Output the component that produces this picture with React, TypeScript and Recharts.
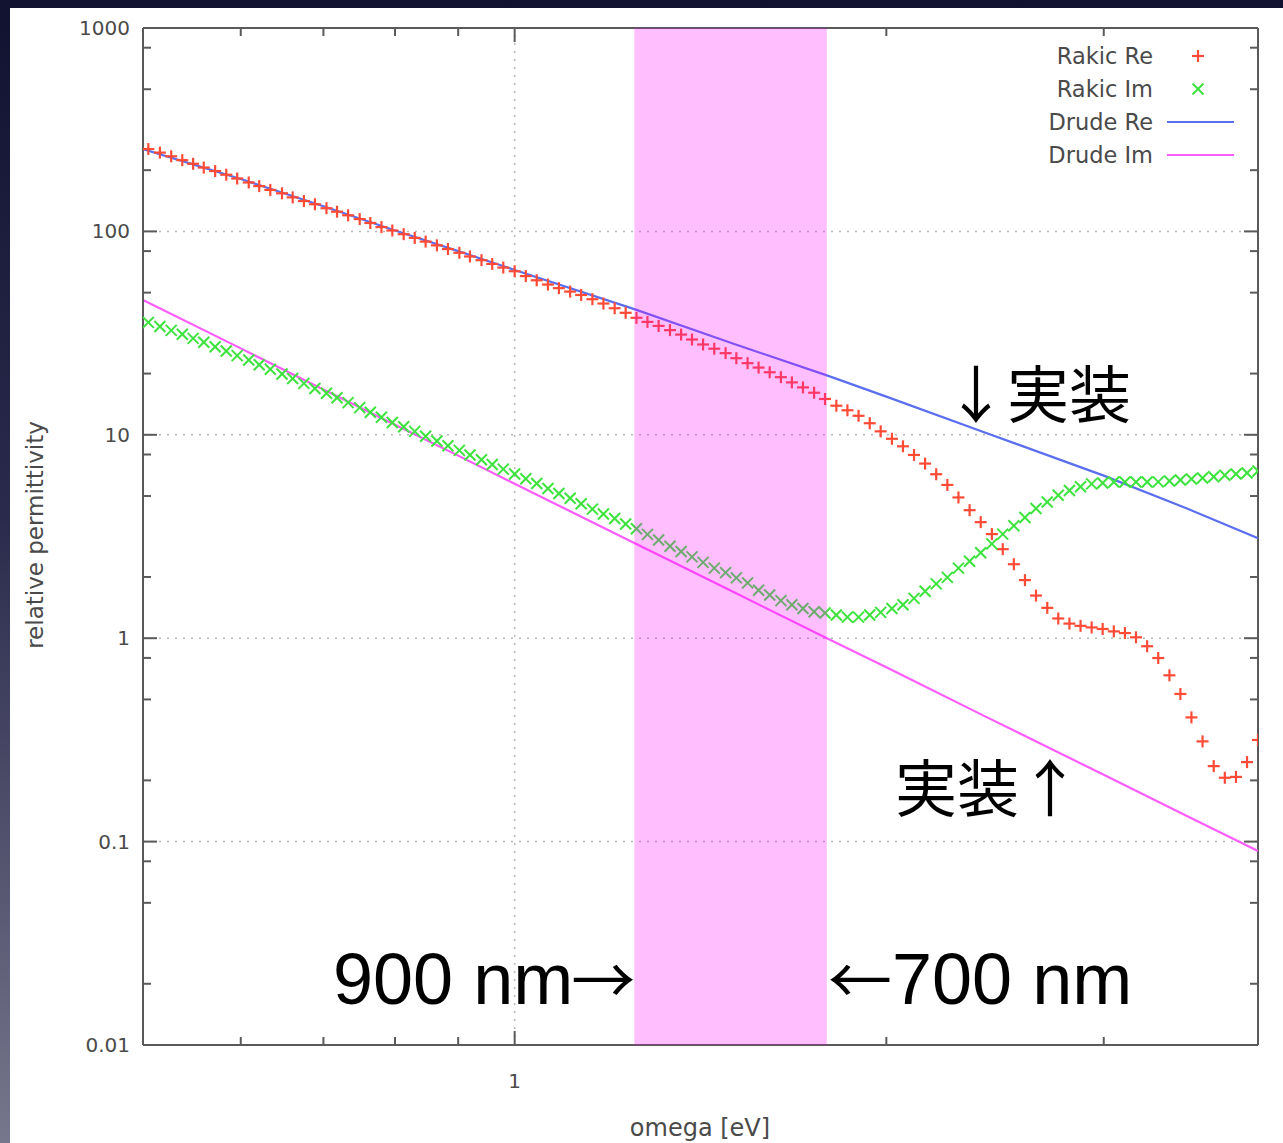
import React from "react";
import {
  ComposedChart,
  XAxis,
  YAxis,
  Scatter,
  Line,
  ReferenceArea,
  ReferenceLine,
} from "recharts";

// photon energy grid of the Rakic table [eV]
const omega = [
  0.505, 0.516, 0.527, 0.538, 0.549, 0.56, 0.572, 0.584, 0.596, 0.609,
  0.621, 0.634, 0.648, 0.661, 0.675, 0.689, 0.704, 0.718, 0.733, 0.749,
  0.764, 0.78, 0.796, 0.813, 0.83, 0.847, 0.865, 0.883, 0.902, 0.92,
  0.94, 0.959, 0.979, 1.0, 1.021, 1.042, 1.064, 1.086, 1.109, 1.132,
  1.156, 1.18, 1.205, 1.23, 1.255, 1.281, 1.308, 1.336, 1.364, 1.392,
  1.421, 1.451, 1.482, 1.512, 1.544, 1.576, 1.609, 1.643, 1.677, 1.712,
  1.748, 1.784, 1.822, 1.86, 1.899, 1.939, 1.979, 2.021, 2.063, 2.106,
  2.15, 2.195, 2.241, 2.288, 2.336, 2.385, 2.435, 2.485, 2.537, 2.59,
  2.644, 2.7, 2.756, 2.814, 2.873, 2.933, 2.994, 3.057, 3.121, 3.186,
  3.253, 3.321, 3.391, 3.461, 3.533, 3.607, 3.683, 3.76, 3.839, 3.919,
  4.0,
];

// -Re(eps), Rakic
const rakicRe = [
  254, 244, 234, 224, 215, 206, 198, 190, 182, 174,
  167, 160, 154, 147, 141, 136, 130, 125, 120, 115,
  110, 105, 101, 96.9, 92.9, 89.1, 85.4, 81.9, 78.5, 75.3,
  72.2, 69.2, 66.4, 63.7, 60.3, 57.5, 54.8, 52.6, 50.6, 48.7,
  46.4, 44.2, 41.9, 39.8, 37.6, 35.9, 34.3, 32.7, 31.1, 29.4,
  27.8, 26.5, 25.2, 23.8, 22.5, 21.4, 20.3, 19.2, 18.1, 17.1,
  16.1, 15.0, 13.9, 13.2, 12.4, 11.4, 10.4, 9.56, 8.78, 7.96,
  7.22, 6.4, 5.67, 4.92, 4.26, 3.72, 3.25, 2.74, 2.31, 1.93,
  1.62, 1.41, 1.25, 1.18, 1.15, 1.13, 1.11, 1.08, 1.06, 1.01,
  0.913, 0.799, 0.657, 0.532, 0.408, 0.311, 0.235, 0.206, 0.208, 0.246,
  0.316,
];

// Im(eps), Rakic
const rakicIm = [
  35.7, 34.1, 32.6, 31.2, 29.8, 28.5, 27.1, 25.8, 24.5, 23.3,
  22.1, 21.0, 19.9, 18.9, 17.9, 16.9, 16.0, 15.2, 14.4, 13.6,
  12.9, 12.2, 11.5, 10.95, 10.4, 9.83, 9.32, 8.84, 8.38, 7.95,
  7.54, 7.14, 6.78, 6.42, 6.08, 5.76, 5.44, 5.15, 4.88, 4.58,
  4.31, 4.08, 3.88, 3.64, 3.45, 3.24, 3.04, 2.83, 2.67, 2.51,
  2.36, 2.21, 2.1, 1.98, 1.87, 1.72, 1.63, 1.53, 1.46, 1.4,
  1.35, 1.33, 1.3, 1.27, 1.27, 1.3, 1.34, 1.4, 1.46, 1.57,
  1.7, 1.85, 1.99, 2.21, 2.39, 2.63, 2.91, 3.25, 3.57, 3.92,
  4.34, 4.67, 5.04, 5.32, 5.55, 5.74, 5.8, 5.86, 5.86, 5.86,
  5.86, 5.87, 5.93, 6.0, 6.06, 6.13, 6.22, 6.33, 6.42, 6.49,
  6.64,
];

// Drude model curves
const drudeOmega = [0.5, 0.6, 0.7, 0.8, 0.9, 1, 1.25, 1.5, 1.79, 2, 2.4, 3, 3.5, 4];
const drudeRe = [254, 181, 133, 101, 80, 64.6, 41.5, 28.2, 19.6, 15.4, 10.3, 6.3, 4.35, 3.1];
const drudeIm = [46, 26.6, 16.7, 11.2, 7.9, 5.74, 2.94, 1.7, 1.0, 0.72, 0.415, 0.213, 0.134, 0.09];

// 900 nm .. 700 nm window
const band = [1.25, 1.79];

const xDomain = [0.5, 4];
const yDomain = [0.01, 1000];
const xMajorTicks = [1];
const xMinorTicks = [0.6, 0.7, 0.8, 0.9, 2, 3];
const yMajorTicks = [0.01, 0.1, 1, 10, 100, 1000];
const yMinorTicks = [0.02, 0.05, 0.08, 0.2, 0.5, 0.8, 2, 5, 8, 20, 50, 80, 200, 500, 800];
const yGrid = [0.1, 1, 10, 100];

const RED = "#ff4a35";
const GREEN = "#3de33d";
const BLUE = "#5a6ef0";
const MAGENTA = "#ff5cff";
const AXIS = "#5a5a5a";
const TEXT = "#4a4a4a";
const GRID = "#b8b8b8";

const CHART_W = 1273;
const CHART_H = 1135;
const PLOT = { left: 133, right: 1248, top: 20, bottom: 1037 };

const rows = (xs: number[], ys: number[]) => xs.map((x, i) => ({ omega: x, eps: ys[i] }));
const reRows = rows(omega, rakicRe);
const imRows = rows(omega, rakicIm);
const drudeReRows = rows(drudeOmega, drudeRe);
const drudeImRows = rows(drudeOmega, drudeIm);

const Plus = ({ cx, cy }: any) => (
  <g stroke={RED} strokeWidth={2.2}>
    <line x1={cx - 6} x2={cx + 6} y1={cy} y2={cy} />
    <line x1={cx} x2={cx} y1={cy - 6} y2={cy + 6} />
  </g>
);

const Cross = ({ cx, cy }: any) => (
  <g stroke={GREEN} strokeWidth={2}>
    <line x1={cx - 5.5} x2={cx + 5.5} y1={cy - 5.5} y2={cy + 5.5} />
    <line x1={cx - 5.5} x2={cx + 5.5} y1={cy + 5.5} y2={cy - 5.5} />
  </g>
);

// ticks point inward on both opposite sides, like gnuplot's mirrored tics
const YTick = ({ y, payload }: any) => {
  const major = yMajorTicks.includes(payload.value);
  const len = major ? 14 : 8;
  return (
    <g>
      <line x1={PLOT.left} x2={PLOT.left + len} y1={y} y2={y} stroke={AXIS} strokeWidth={2} />
      <line x1={PLOT.right - len} x2={PLOT.right} y1={y} y2={y} stroke={AXIS} strokeWidth={2} />
      {major && (
        <text
          x={PLOT.left - 13}
          y={y}
          textAnchor="end"
          dominantBaseline="central"
          fontSize={20}
          fontFamily="DejaVu Sans"
          fill={TEXT}
        >
          {String(payload.value)}
        </text>
      )}
    </g>
  );
};

const XTick = ({ x, payload }: any) => {
  const major = xMajorTicks.includes(payload.value);
  const len = major ? 14 : 8;
  return (
    <g>
      <line x1={x} x2={x} y1={PLOT.bottom} y2={PLOT.bottom - len} stroke={AXIS} strokeWidth={2} />
      <line x1={x} x2={x} y1={PLOT.top} y2={PLOT.top + len} stroke={AXIS} strokeWidth={2} />
      {major && (
        <text
          x={x}
          y={PLOT.bottom + 36}
          textAnchor="middle"
          dominantBaseline="central"
          fontSize={20}
          fontFamily="DejaVu Sans"
          fill={TEXT}
        >
          {String(payload.value)}
        </text>
      )}
    </g>
  );
};

const legendItems = [
  { name: "Rakic Re", kind: "plus" },
  { name: "Rakic Im", kind: "cross" },
  { name: "Drude Re", kind: "line", color: BLUE },
  { name: "Drude Im", kind: "line", color: MAGENTA },
];

const Overlay = () => {
  const legendY = [56, 89, 122, 155];
  const sans = "DejaVu Sans";
  const cjk = "'Noto Sans CJK JP'";
  const latin = "'Liberation Sans', Arial";
  return (
    <svg
      width={1283}
      height={1143}
      style={{ position: "absolute", left: 0, top: 0, pointerEvents: "none" }}
    >
      {legendItems.map((item, i) => (
        <g key={item.name}>
          <text
            x={1153}
            y={legendY[i]}
            textAnchor="end"
            dominantBaseline="central"
            fontSize={22.5}
            fontFamily={sans}
            fill={TEXT}
          >
            {item.name}
          </text>
          {item.kind === "plus" && <Plus cx={1198} cy={legendY[i]} />}
          {item.kind === "cross" && <Cross cx={1198} cy={legendY[i]} />}
          {item.kind === "line" && (
            <line x1={1167} x2={1234} y1={legendY[i]} y2={legendY[i]} stroke={item.color} strokeWidth={2.2} />
          )}
        </g>
      ))}

      <text
        x={35}
        y={535}
        transform="rotate(-90 35 535)"
        textAnchor="middle"
        dominantBaseline="central"
        fontSize={23}
        fontFamily={sans}
        fill={TEXT}
      >
        relative permittivity
      </text>
      <text
        x={700}
        y={1128}
        textAnchor="middle"
        dominantBaseline="central"
        fontSize={24}
        fontFamily={sans}
        fill={TEXT}
      >
        omega [eV]
      </text>

      <text x={1131} y={391} textAnchor="end" dominantBaseline="central" fontSize={62} fontFamily={cjk} fill="#000">
        ↓実装
      </text>
      <text x={895} y={785} textAnchor="start" dominantBaseline="central" fontSize={62} fontFamily={cjk} fill="#000">
        実装↑
      </text>

      <text x={333} y={1004} fontSize={72} fontFamily={latin} fill="#000">
        900 nm
        <tspan fontFamily={cjk} fontSize={64} dx={-2}>
          →
        </tspan>
      </text>
      <text x={828} y={1004} fontSize={64} fontFamily={cjk} fill="#000">
        ←
        <tspan fontFamily={latin} fontSize={72}>
          700 nm
        </tspan>
      </text>
    </svg>
  );
};

export default function App() {
  return (
    <div
      style={{
        position: "absolute",
        left: 0,
        top: 0,
        width: 1283,
        height: 1143,
        overflow: "hidden",
        background: "linear-gradient(180deg, #111130 0%, #2a2a4c 45%, #76768c 100%)",
      }}
    >
      <div style={{ position: "absolute", left: 10, top: 8, width: CHART_W, height: CHART_H, background: "#fff" }}>
        <ComposedChart
          width={CHART_W}
          height={CHART_H}
          margin={{ top: 20, right: 25, bottom: 58, left: 73 }}
        >
          <XAxis
            dataKey="omega"
            type="number"
            scale="log"
            domain={xDomain}
            allowDataOverflow
            ticks={[...xMinorTicks.slice(0, 4), ...xMajorTicks, ...xMinorTicks.slice(4)]}
            interval={0}
            tick={<XTick />}
            tickLine={false}
            axisLine={{ stroke: AXIS, strokeWidth: 2 }}
            height={40}
          />
          <YAxis
            dataKey="eps"
            type="number"
            scale="log"
            domain={yDomain}
            allowDataOverflow
            ticks={[...yMajorTicks, ...yMinorTicks].sort((a, b) => a - b)}
            interval={0}
            tick={<YTick />}
            tickLine={false}
            axisLine={{ stroke: AXIS, strokeWidth: 2 }}
            width={60}
          />

          {yGrid.map((v) => (
            <ReferenceLine key={v} y={v} stroke={GRID} strokeWidth={1.5} strokeDasharray="2 6" />
          ))}
          <ReferenceLine x={1} stroke={GRID} strokeWidth={1.5} strokeDasharray="2 6" />
          <ReferenceLine y={1000} stroke={AXIS} strokeWidth={2} />
          <ReferenceLine x={4} stroke={AXIS} strokeWidth={2} />

          <Line
            data={drudeReRows}
            dataKey="eps"
            type="linear"
            stroke={BLUE}
            strokeWidth={2.2}
            dot={false}
            isAnimationActive={false}
          />
          <Line
            data={drudeImRows}
            dataKey="eps"
            type="linear"
            stroke={MAGENTA}
            strokeWidth={2.2}
            dot={false}
            isAnimationActive={false}
          />
          <Scatter data={reRows} dataKey="eps" shape={(p: any) => <Plus {...p} />} isAnimationActive={false} />
          <Scatter data={imRows} dataKey="eps" shape={(p: any) => <Cross {...p} />} isAnimationActive={false} />

          {/* translucent window laid over the curves */}
          <ReferenceArea
            x1={band[0]}
            x2={band[1]}
            y1={yDomain[0]}
            y2={yDomain[1]}
            fill="#ff00ff"
            fillOpacity={0.25}
            stroke="none"
            zIndex={2000}
          />
        </ComposedChart>
      </div>
      <Overlay />
    </div>
  );
}
